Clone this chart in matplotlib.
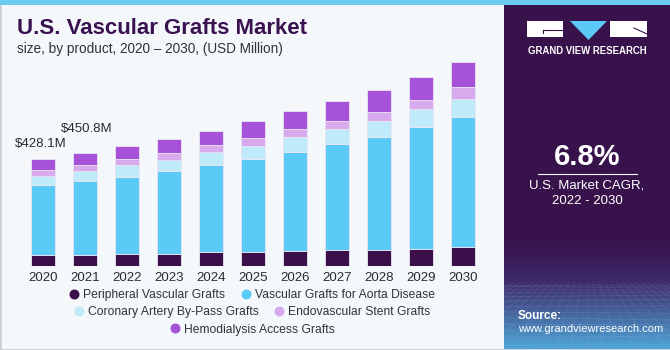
import numpy as np
import matplotlib
matplotlib.use("Agg")
import matplotlib.pyplot as plt
from matplotlib.lines import Line2D
from matplotlib.patches import Rectangle, Polygon

years = ["2020", "2021", "2022", "2023", "2024", "2025", "2026", "2027", "2028", "2029", "2030"]
peripheral = [44, 44, 49, 49, 55, 55, 59, 64, 64, 68, 75]
aorta = [280, 296, 308, 331, 349, 373, 397, 424, 451, 488, 521]
coronary = [36, 40, 47, 44, 51, 53, 59, 60, 66, 71, 72]
endovascular = [24, 24, 24, 29, 29, 32, 33, 33, 35, 37, 47]
hemodialysis = [44, 47, 51, 54, 57, 68, 73, 80, 88, 93, 102]
series_names = ["Peripheral Vascular Grafts", "Vascular Grafts for Aorta Disease",
                "Coronary Artery By-Pass Grafts", "Endovascular Stent Grafts",
                "Hemodialysis Access Grafts"]
colors = ["#3a0f4a", "#5ccaf6", "#bfeafa", "#d6aaec", "#a653d9"]
value_labels = ["$428.1M", "$450.8M"]
label_heights = [488, 548]

FONT = ["Liberation Sans", "DejaVu Sans"]
plt.rcParams['font.family'] = FONT

W, H = 670, 350
fig = plt.figure(figsize=(6.7, 3.5), dpi=100)
fig.patch.set_facecolor("#f4f8fb")

def fx(px):
    return px / W

def fy(py):
    return 1 - py / H

# border and top stripe
bg = fig.add_axes([0, 0, 1, 1], zorder=-5)
bg.set_xlim(0, W); bg.set_ylim(H, 0); bg.axis("off")
bg.add_patch(Rectangle((0, 0), W, H, facecolor="#f4f8fb", edgecolor="none"))
bg.add_patch(Rectangle((0, 0), 1.5, H, facecolor="#cfd3d6", edgecolor="none"))
bg.add_patch(Rectangle((0, H - 1.5), W, 1.5, facecolor="#cfd3d6", edgecolor="none"))

# main axes
ax = fig.add_axes([fx(10), 84 / H, 490 / W, 256 / H])
ax.set_facecolor("none")
x = np.arange(len(years))
series = [peripheral, aorta, coronary, endovascular, hemodialysis]
bottom = np.zeros(len(years))
for vals, col in zip(series, colors):
    ax.bar(x, vals, bottom=bottom, width=0.57, color=col, edgecolor="#ece4f3", linewidth=0.6)
    bottom += np.array(vals)
ax.set_xlim(-0.786, 10.881)
ax.set_ylim(0, 1024)
for s in ax.spines.values():
    s.set_visible(False)
ax.set_yticks([])
ax.set_xticks(x)
ax.set_xticklabels(years, fontsize=9.5, color="#2b2b2b")
ax.tick_params(axis="x", length=0, pad=4)
offs = [-0.05, 0.05]
for i, (lab, hgt) in enumerate(zip(value_labels, label_heights)):
    ax.text(x[i] + offs[i], hgt, lab, ha="center", va="center", fontsize=9.5, color="#2b2b2b")

# title
fig.text(fx(17), fy(29), "U.S. Vascular Grafts Market", fontsize=16, fontweight="heavy",
         color="#3a1250", ha="left", va="center")
fig.text(fx(17), fy(49), "size, by product, 2020 \u2013 2030, (USD Million)", fontsize=9.8,
         color="#333333", ha="left", va="center")

# legend rows
def handle(c):
    return Line2D([], [], marker="o", linestyle="none", markersize=6.2,
                  markerfacecolor=c, markeredgecolor=c)

rows = [([0, 1], 295), ([2, 3], 312), ([4], 329.5)]
for idx, ypx in rows:
    leg = fig.legend([handle(colors[i]) for i in idx], [series_names[i] for i in idx],
                     loc="center", bbox_to_anchor=(fx(252), fy(ypx)), ncol=len(idx),
                     frameon=False, fontsize=8.7, handlelength=0.8, handletextpad=0.35,
                     columnspacing=1.3, borderpad=0, borderaxespad=0)
    for t in leg.get_texts():
        t.set_color("#333333")

# right panel
p = fig.add_axes([fx(504), 0, 166 / W, 1 - 5 / H], zorder=2)
p.set_xlim(504, 670); p.set_ylim(H, 5); p.axis("off")
top_c = np.array([0x38, 0x12, 0x4b]) / 255
mid_c = np.array([0x3d, 0x2a, 0x6a]) / 255
bot_c = np.array([0x4f, 0xa6, 0xd8]) / 255
img = np.zeros((200, 1, 3))
yy = np.linspace(5, H, 200)
for k, yv in enumerate(yy):
    if yv < 240:
        c = top_c
    elif yv < 282:
        t = (yv - 240) / 42
        c = top_c * (1 - t) + mid_c * t
    else:
        t = (yv - 282) / (H - 282)
        c = mid_c * (1 - t) + bot_c * t
    img[k, 0] = c
p.imshow(img, extent=(504, 670, H, 5), aspect="auto", zorder=0)
# faint perspective grid
for k in range(14):
    yv = 285 + (k ** 1.5) * 1.45
    p.plot([504, 670], [yv, yv + 2 * np.sin(k)], color="white", alpha=0.09, lw=0.6, zorder=1)
for k in range(-12, 24):
    x0 = 587 + k * 6
    x1 = 587 + k * 16
    p.plot([x0, x1], [282, H], color="white", alpha=0.08, lw=0.6, zorder=1)
p.add_patch(Rectangle((504, H - 1.5), 166, 1.5, facecolor="#cfd3d6", edgecolor="none", zorder=3))

# logo
p.add_patch(Rectangle((527, 21), 36, 16, facecolor="white", edgecolor="none", zorder=3))
p.add_patch(Polygon([[570, 21], [607, 21], [588.5, 40]], closed=True, facecolor="#5ccaf6",
                    edgecolor="none", zorder=3))
p.add_patch(Rectangle((610, 21), 37, 16, facecolor="white", edgecolor="none", zorder=3))
p.plot([543, 563], [30, 30], color="#38124b", lw=0.8, zorder=4)
p.plot([543, 543], [30, 33], color="#38124b", lw=0.8, zorder=4)
p.plot([634, 647], [28, 34], color="#38124b", lw=0.8, zorder=4)
p.text(587.5, 51.5, "GRAND VIEW RESEARCH", color="white", fontsize=6.9, fontweight="bold",
       ha="center", va="center", zorder=4)

p.text(587, 157, "6.8%", color="white", fontsize=21, fontweight="bold", ha="center",
       va="center", zorder=4)
p.plot([538, 637], [173.5, 173.5], color="white", lw=0.8, zorder=4)
p.text(587, 186, "U.S. Market CAGR,", color="white", fontsize=9.5, ha="center", va="center", zorder=4)
p.text(587, 201, "2022 - 2030", color="white", fontsize=9.5, ha="center", va="center", zorder=4)

p.text(518, 316, "Source:", color="white", fontsize=8.5, fontweight="bold", ha="left",
       va="center", zorder=4)
p.text(518, 329.5, "www.grandviewresearch.com", color="white", fontsize=8, ha="left",
       va="center", zorder=4)

# top stripe
st = fig.add_axes([0, 1 - 5 / H, 1, 5 / H], zorder=3)
st.axis("off")
st.add_patch(Rectangle((0, 0), 1, 1, facecolor="#6ccbf0", edgecolor="none", transform=st.transAxes))

fig.savefig("out.png", dpi=100, facecolor=fig.get_facecolor())
